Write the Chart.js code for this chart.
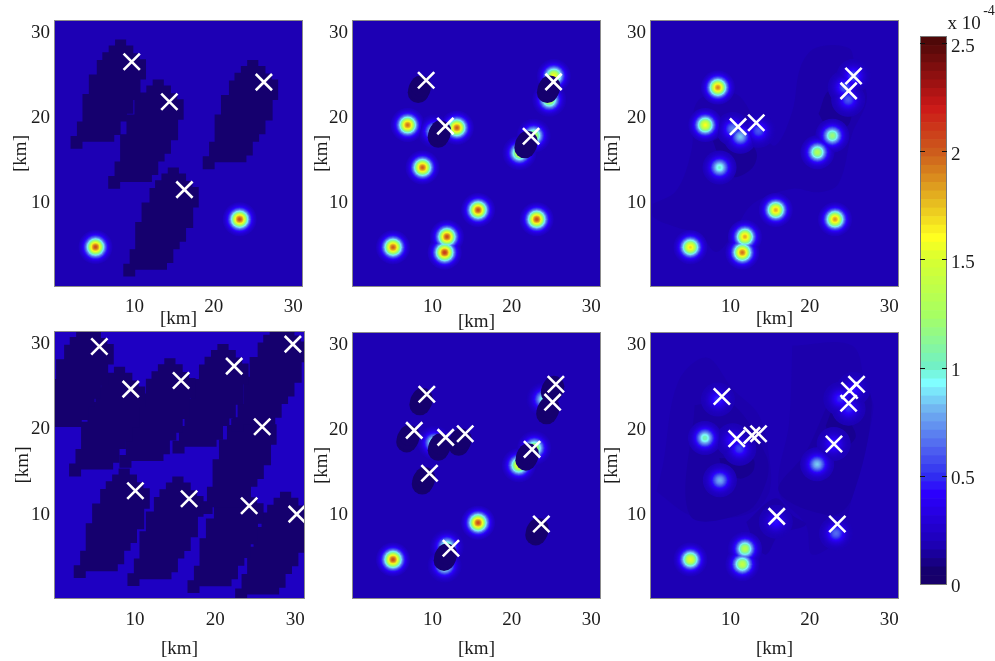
<!DOCTYPE html>
<html><head><meta charset="utf-8">
<script src="https://cdn.jsdelivr.net/npm/chart.js@4"></script>
<style>
html,body{margin:0;padding:0;background:#fff;overflow:hidden;width:995px;height:661px}
canvas{position:absolute;filter:blur(0.4px)}
</style></head><body>
<script>
// ---------- data (km, and 1e-4 field values) ----------
const kmTicks = [10, 20, 30];
const colorbarTicks = [0, 0.5, 1, 1.5, 2, 2.5];

const crosses1 = [[9.66,26.3],[14.4,21.6],[16.3,11.3],[26.3,23.9]];
const crosses2 = [[9.21,24.12],[11.63,18.75],[22.42,17.55],[25.25,23.93]];
const crosses3 = [[10.96,18.68],[13.25,19.14],[25.5,24.63],[24.88,22.88]];
const crosses4 = [[5.54,29.38],[9.46,24.4],[15.75,25.4],[22.38,27.08],[29.71,29.65],[25.88,20.0],[10.04,12.53],[16.75,11.6],[24.25,10.78],[30.2,9.8]];
const crosses5 = [[9.29,23.89],[7.71,19.65],[11.67,18.83],[14.13,19.26],[9.63,14.63],[12.33,5.84],[22.54,17.43],[25.54,25.06],[25.13,22.96],[23.71,8.68]];
const crosses6 = [[8.92,23.62],[10.79,18.68],[12.71,19.07],[13.54,19.26],[23.04,18.05],[15.83,9.57],[23.46,8.68],[25.88,25.06],[25.0,24.32],[24.88,22.84]];

// x, y, peak value
const sources1 = [[5.1,4.56,2.05],[23.25,7.83,2.05]];
const sources2 = [[6.88,18.87,1.95],[13.08,18.56,2.0],[8.75,13.89,2.0],[15.75,8.91,2.05],[23.13,7.82,2.05],[11.83,5.76,2.05],[11.54,3.93,2.1],[5.04,4.55,2.0],[25.29,24.63,1.6],[24.71,21.83,1.45],[22.75,17.63,1.4],[20.96,15.6,1.5],[10.25,18.13,1.1]];
const sources3 = [[8.42,23.27,1.9],[6.83,18.87,1.6],[8.63,13.89,1.0],[11.25,17.5,0.85],[10.29,18.4,0.7],[13.54,18.2,0.6],[22.83,17.63,1.2],[20.96,15.68,1.3],[15.71,8.91,1.8],[23.17,7.82,1.85],[11.83,5.76,1.8],[11.5,3.93,1.95],[4.96,4.55,1.7],[25.5,24.63,0.6],[24.4,23.3,0.6],[24.83,21.83,0.6]];
const sources5 = [[15.75,8.83,2.05],[5.04,4.51,2.05],[20.88,15.56,1.6],[22.83,17.59,1.4],[10.25,18.2,1.2],[11.83,6.03,1.2],[11.54,3.81,1.2],[24.0,23.3,1.0]];
const sources6 = [[4.96,4.51,1.55],[6.79,18.75,1.05],[8.67,13.81,0.8],[20.92,15.68,0.85],[11.83,5.76,1.35],[11.5,3.97,1.4],[8.42,23.27,0.5],[11.13,17.5,0.55],[10.29,18.5,0.45],[15.71,8.95,0.45],[23.29,7.59,0.65],[24.88,22.2,0.5],[23.83,23.35,0.5],[25.5,24.5,0.45],[23.0,18.05,0.5]];

// footprint outline, relative to a cross
const footprint = [[-2.1,2.6],[-0.7,2.6],[-0.7,1.9],[0.2,1.9],[0.2,1.0],[1.0,1.0],[1.0,0.3],[1.8,0.3],[1.8,-2.1],[1.1,-2.1],[1.1,-4.5],[0.2,-4.5],[0.2,-6.1],[-0.6,-6.1],[-0.6,-7.0],[-1.4,-7.0],[-1.4,-8.6],[-2.2,-8.6],[-2.2,-9.4],[-6.2,-9.4],[-6.2,-10.2],[-7.7,-10.2],[-7.7,-8.7],[-6.9,-8.7],[-6.9,-7.0],[-6.2,-7.0],[-6.2,-3.8],[-5.4,-3.8],[-5.4,-1.5],[-4.4,-1.5],[-4.4,0.2],[-3.7,0.2],[-3.7,1.1],[-2.9,1.1],[-2.9,1.9],[-2.1,1.9]];

// depleted spots (centres)
const spots2 = [[8.37,23.07],[10.88,17.82],[21.79,16.58],[24.63,23.07]];
const spots5 = [[8.58,23.03],[6.92,18.68],[10.88,17.7],[13.46,18.29],[8.88,13.74],[11.63,4.79],[23.17,7.78],[21.92,16.54],[24.54,21.98],[25.13,24.44]];

// faint smooth regions
const zone3Outer = [[0.2,9.6],[3.2,11.2],[5.1,15.9],[5.9,21.7],[10.7,22.5],[14.0,17.8],[15.7,16.5],[17.8,20.5],[18.8,25.6],[20.7,27.9],[24.9,27.9],[25.7,25.6],[27.2,22.1],[25.3,17.8],[23.6,12.0],[21.1,11.0],[17.8,11.4],[12.8,9.6],[10.3,6.1],[8.2,4.0],[6.1,6.1],[3.2,6.9],[0.3,8.1]];
const zone3InnerA = [[7.8,17.0],[10.5,18.0],[13.2,15.9],[12.8,13.9],[10.3,12.8],[8.6,15.1]];
const zone3InnerB = [[21.1,20.2],[22.4,22.9],[24.9,22.5],[25.3,20.2],[24.5,18.6],[22.0,19.0]];
const zone6OuterA = [[0.7,12.5],[1.5,15.6],[3.4,25.3],[7.0,28.2],[10.3,24.5],[13.6,21.4],[14.9,16.3],[14.9,12.5],[12.8,10.1],[8.6,9.3],[4.9,9.7]];
const zone6OuterB = [[17.8,29.6],[25.3,29.6],[27.0,24.9],[28.0,22.2],[25.3,11.7],[23.6,7.0],[20.3,5.1],[19.5,8.6],[16.1,12.5],[17.4,20.6]];
const zone6Mid = [[12,8.9],[15.7,11.7],[17.8,9.7],[19.5,8.6],[16.1,7.4],[14.5,5.1],[13.2,6.2]];
const zone6MidA = [[5.5,22.6],[9.9,23.0],[14.5,16.7],[14.5,13.6],[12,10.1],[4.9,9.7]];
const zone6MidB = [[22,22.2],[26.1,26.1],[27.8,22.6],[25.3,11.7],[22.8,9.7],[16.1,12.5],[19.5,17.1]];
const zone6InnerA = [[8.6,16.4],[12.8,16.3],[12.8,14.8],[11.1,14.0],[9.0,15.2]];
const zone6InnerB = [[22.0,20.2],[23.2,22.4],[25.3,20.2],[25.7,18.7],[23.2,17.1]];

// colormap stops
const cmapValues = [0,0.06,0.18,0.42,0.5,0.6,0.8,0.93,1.0,1.25,1.5,1.6,1.75,2.0,2.2,2.5,2.6];
const cmapColors = ['#18006a','#15006e','#1d00b4','#2c00ff','#3030f0','#4a58f0','#70b0f0','#80ffff','#70f0c8','#a8ff60','#d8ff30','#ffff20','#e8c020','#cc5a1c','#cc1818','#500808','#480808'];

// ---------- helpers ----------
const SERIF = '"Liberation Serif", serif';
const INK = '#1c1c1c';
const rgb = h => [1,3,5].map(i => parseInt(h.substr(i,2),16));
function cmap(v){
  if (v <= cmapValues[0]) return cmapColors[0];
  for (let i = 1; i < cmapValues.length; i++) {
    if (v <= cmapValues[i]) {
      const t = (v - cmapValues[i-1]) / (cmapValues[i] - cmapValues[i-1]);
      const a = rgb(cmapColors[i-1]), b = rgb(cmapColors[i]);
      return 'rgb(' + a.map((c,k) => Math.round(c + (b[k]-c)*t)).join(',') + ')';
    }
  }
  return cmapColors[cmapColors.length-1];
}
const DARK = '#15006e';
const pts = a => a.map(p => ({x:p[0], y:p[1]}));
const closed = a => pts(a.concat([a[0]]));
function shapeDs(poly, color, order, tension){
  return {type:'scatter', showLine:true, fill:'shape', data:closed(poly), backgroundColor:color,
          borderColor:color, borderWidth:0, pointRadius:0, order, tension:tension||0};
}
const noPad = s => { s.paddingTop = 0; s.paddingBottom = 0; s.paddingLeft = 0; s.paddingRight = 0; };
const frame = {
  id:'frame',
  beforeDatasetsDraw(c, a, o){
    if (!o.bg) return;
    const t = c.chartArea;
    c.ctx.save(); c.ctx.fillStyle = o.bg;
    c.ctx.fillRect(t.left, t.top, t.width, t.height); c.ctx.restore();
  },
  afterDatasetsDraw(c){
    const t = c.chartArea;
    c.ctx.save(); c.ctx.strokeStyle = '#8c8c8c'; c.ctx.lineWidth = 1;
    c.ctx.strokeRect(t.left-0.5, t.top-0.5, t.width+1, t.height+1); c.ctx.restore();
  }
};

function panel(o){
  const cv = document.createElement('canvas');
  const PL = 50, PT = 16, PR = 15, PB = 64, W = 249, H = 266;
  cv.width = PL+W+PR; cv.height = PT+H+PB;
  cv.style.left = (o.left-PL)+'px'; cv.style.top = (o.top-PT)+'px';
  document.body.appendChild(cv);
  const ds = [];
  (o.zones||[]).forEach((z,i) => ds.push(shapeDs(z[0], z[1], 200-i, 0.35)));
  if (o.footprints) o.footprints.forEach(c =>
    ds.push(shapeDs(footprint.map(p => [p[0]+c[0], p[1]+c[1]]), DARK, 150)));
  // halos: concentric rings, largest first
  const ringCount = 34, ringStep = 0.5, sig2 = 75;
  for (let i = ringCount; i >= 1; i--) {
    const r = i*ringStep;
    ds.push({type:'scatter', data:pts(o.sources), order:40+i,
      pointRadius:r, pointBorderWidth:0,
      pointBackgroundColor:o.sources.map(s => cmap(o.base + (s[2]-o.base)*Math.exp(-r*r/sig2)))});
  }
  if (o.spots) {
    const big = [], radii = [];
    o.spots.forEach(s => {
      big.push({x:s[0]-0.16,y:s[1]-0.38},{x:s[0],y:s[1]},{x:s[0]+0.16,y:s[1]+0.38});
      radii.push(10.5,11,10.5);
    });
    ds.push({type:'scatter', data:big, order:5, pointRadius:radii, pointBorderWidth:0, pointBackgroundColor:DARK});
  }
  ds.push({type:'scatter', data:pts(o.crosses), order:0, pointStyle:'crossRot', pointRadius:11.5,
    pointBorderColor:'#ffffff', pointBorderWidth:2.6, pointBackgroundColor:'#ffffff'});
  const fixTicks = s => { s.ticks = kmTicks.map(v => ({value:v})); };
  new Chart(cv, {
    type:'scatter',
    data:{datasets:ds},
    plugins:[frame],
    options:{
      responsive:false, animation:false, events:[],
      layout:{padding:{top:PT, right:PR, left:0, bottom:0}},
      plugins:{legend:{display:false}, tooltip:{enabled:false}, frame:{bg:o.bg}},
      scales:{
        x:{type:'linear', min:0, max:31.1, grid:{display:false, drawTicks:false}, border:{display:false},
           afterBuildTicks:fixTicks, afterFit:s => { s.height = PB; noPad(s); },
           ticks:{font:{family:SERIF,size:19}, color:INK, padding:o.tickPadX, maxRotation:0, autoSkip:false},
           title:{display:true, text:'[km]', font:{family:SERIF,size:19}, color:INK, padding:{top:0,bottom:o.xTitlePad}}},
        y:{type:'linear', min:0, max:31.07, grid:{display:false, drawTicks:false}, border:{display:false},
           afterBuildTicks:fixTicks, afterFit:s => { s.width = PL; noPad(s); },
           ticks:{font:{family:SERIF,size:19}, color:INK, padding:5, autoSkip:false, labelOffset:2.5},
           title:{display:true, text:'[km]', font:{family:SERIF,size:19}, color:INK, padding:{top:o.yTitlePad,bottom:0}}}
      }
    }
  });
}

panel({left:55,  top:20,  bg:'#1d00b4', base:0.18, sources:sources1, crosses:crosses1, footprints:crosses1, tickPadX:10, xTitlePad:19.6, yTitlePad:5});
panel({left:353, top:20,  bg:'#1d00b4', base:0.18, sources:sources2, crosses:crosses2, spots:spots2, tickPadX:10, xTitlePad:16.6, yTitlePad:8});
panel({left:651, top:20,  bg:'#1d00b4', base:0.18, sources:sources3, crosses:crosses3,
  zones:[[zone3Outer,'#1c00aa'],[zone3InnerA,'#190096'],[zone3InnerB,'#190096']], tickPadX:10, xTitlePad:19.6, yTitlePad:0});
panel({left:55,  top:332, bg:'#1e00c2', base:0.24, sources:[], crosses:crosses4, footprints:crosses4, tickPadX:11, xTitlePad:2, yTitlePad:7});
panel({left:353, top:332, bg:'#1d00b4', base:0.18, sources:sources5, crosses:crosses5, spots:spots5, tickPadX:11, xTitlePad:2, yTitlePad:8});
panel({left:651, top:332, bg:'#1d00b4', base:0.18, sources:sources6, crosses:crosses6,
  zones:[[zone6OuterA,'#1c00ac'],[zone6OuterB,'#1c00ac'],[zone6Mid,'#1b00a6'],[zone6MidA,'#1a00a2'],[zone6MidB,'#1a00a2'],[zone6InnerA,'#170090'],[zone6InnerB,'#170090']], tickPadX:11, xTitlePad:2, yTitlePad:0});

// ---------- colour bar ----------
(function(){
  const cv = document.createElement('canvas');
  cv.width = 75; cv.height = 600;
  cv.style.left = '920px'; cv.style.top = '0px';
  document.body.appendChild(cv);
  const top = 2.528, bands = 64, step = top/bands, ds = [];
  for (let i = 0; i < bands; i++) ds.push({data:[step], backgroundColor:cmap((i+0.5)*step), borderWidth:0, barPercentage:1, categoryPercentage:1});
  const deco = {
    id:'deco',
    afterDraw(c){
      const x = c.ctx, t = c.chartArea, y = c.scales.y;
      x.save();
      x.strokeStyle = '#777'; x.lineWidth = 1;
      x.strokeRect(t.left+0.5, t.top-0.5, t.width-1, t.height+1);
      x.strokeStyle = '#111';
      colorbarTicks.slice(1).forEach(v => {
        const p = Math.round(y.getPixelForValue(v))+0.5;
        x.beginPath(); x.moveTo(t.left, p); x.lineTo(t.left+5, p);
        x.moveTo(t.right-5, p); x.lineTo(t.right, p); x.stroke();
      });
      x.fillStyle = INK; x.textAlign = 'center'; x.textBaseline = 'middle';
      x.font = '19px ' + SERIF; x.fillText('x 10', 44, 24);
      x.font = '14px ' + SERIF; x.fillText('-4', 69, 11);
      x.restore();
    }
  };
  new Chart(cv, {
    type:'bar',
    data:{labels:['field'], datasets:ds},
    plugins:[deco],
    options:{
      responsive:false, animation:false, events:[],
      layout:{padding:{top:37, bottom:16, left:0, right:0}},
      plugins:{legend:{display:false}, tooltip:{enabled:false}},
      scales:{
        x:{stacked:true, display:false},
        y:{stacked:true, position:'right', min:0, max:top, grid:{display:false, drawTicks:false}, border:{display:false},
           afterBuildTicks:s => { s.ticks = colorbarTicks.map(v => ({value:v})); },
           afterFit:s => { s.width = 48; noPad(s); },
           ticks:{font:{family:SERIF,size:19}, color:INK, padding:4, autoSkip:false, labelOffset:3.5, callback:v => String(v)}}
      }
    }
  });
})();
</script>
</body></html>
